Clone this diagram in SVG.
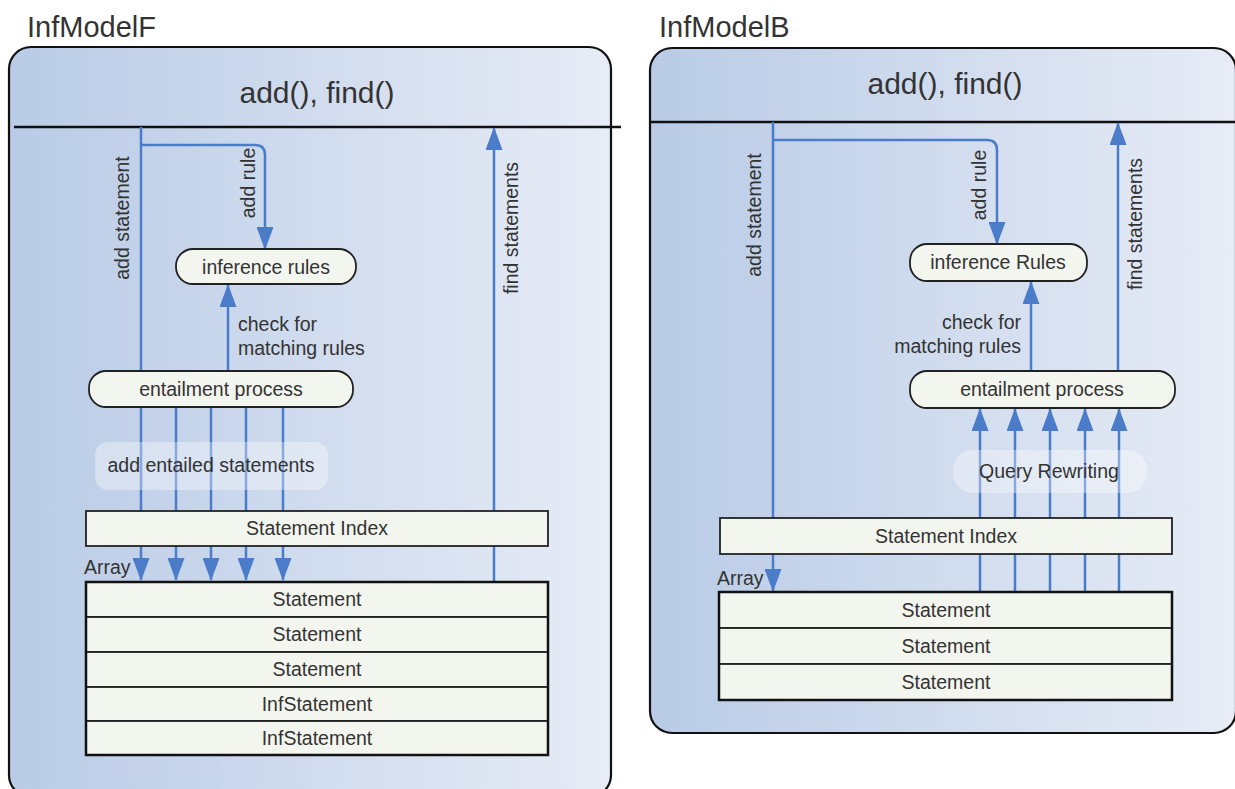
<svg xmlns="http://www.w3.org/2000/svg" width="1235" height="789" viewBox="0 0 1235 789">
<defs>
<linearGradient id="bg" x1="0" y1="0" x2="1" y2="0">
<stop offset="0" stop-color="#b9cbe6"/>
<stop offset="1" stop-color="#e7ecf6"/>
</linearGradient>
<marker id="ah" markerUnits="userSpaceOnUse" markerWidth="23" markerHeight="17" viewBox="0 0 23 17" refX="22" refY="8.5" orient="auto">
<path d="M0,0 L23,8.5 L0,17 z" fill="#4a7cc9"/>
</marker>
<style>
text{font-family:"Liberation Sans",Arial,sans-serif;fill:#333}
.title{font-size:29px}
.hdr{font-size:30px;text-anchor:middle}
.frame{fill:url(#bg);stroke:#111;stroke-width:2.2}
.sep{stroke:#111;stroke-width:2.5}
.node{fill:#f3f5ef;stroke:#222;stroke-width:1.8}
.nt{font-size:19.5px;text-anchor:middle;dominant-baseline:central}
.lbl{font-size:19.5px}
.conn{fill:none;stroke:#4a7cc9;stroke-width:2.5}
.arr{marker-end:url(#ah)}
.lblbg{fill:#ffffff;fill-opacity:0.35}
.vt{font-size:19.5px;text-anchor:middle}
</style>
</defs>

<!-- Left frame -->
<g id="frameF">
<text class="title" x="27" y="37">InfModelF</text>
<rect class="frame" x="9" y="47" width="602" height="750" rx="22"/>
<text class="hdr" x="317" y="103">add(), find()</text>
<line class="sep" x1="14" y1="127" x2="621" y2="127"/>
</g>

<!-- Right frame -->
<g id="frameB">
<text class="title" x="659" y="37">InfModelB</text>
<rect class="frame" x="650" y="48" width="586" height="685" rx="22"/>
<text class="hdr" x="945" y="94">add(), find()</text>
<line class="sep" x1="650" y1="122" x2="1236" y2="122"/>
</g>

<g id="connectors">
<!-- left -->
<path class="conn arr" d="M141,127 V580"/>
<path class="conn arr" d="M141,145 H255 Q265,145 265,155 V249"/>
<path class="conn arr" d="M228,371 V285"/>
<path class="conn arr" d="M176,407 V580"/>
<path class="conn arr" d="M211,407 V580"/>
<path class="conn arr" d="M246,407 V580"/>
<path class="conn arr" d="M283,407 V580"/>
<path class="conn arr" d="M494,582 V128"/>
<!-- right -->
<path class="conn arr" d="M773,122 V591"/>
<path class="conn arr" d="M773,140 H987 Q997,140 997,150 V244"/>
<path class="conn arr" d="M1031,371 V282"/>
<path class="conn arr" d="M1118,371 V123"/>
<path class="conn arr" d="M980,592 V409"/>
<path class="conn arr" d="M1015,592 V409"/>
<path class="conn arr" d="M1050,592 V409"/>
<path class="conn arr" d="M1085,592 V409"/>
<path class="conn arr" d="M1119,592 V409"/>
</g>

<!-- connector labels -->
<g id="labels">
<text class="vt" transform="translate(129,218) rotate(-90)">add statement</text>
<text class="vt" transform="translate(255,183) rotate(-90)">add rule</text>
<text class="vt" transform="translate(518,228) rotate(-90)">find statements</text>
<text class="lbl" x="238" y="331">check for</text>
<text class="lbl" x="238" y="355">matching rules</text>
<rect class="lblbg" x="95" y="442" width="233" height="48" rx="13"/>
<text class="nt" x="211" y="465">add entailed statements</text>
<text class="lbl" x="84" y="574">Array</text>

<text class="vt" transform="translate(761,215) rotate(-90)">add statement</text>
<text class="vt" transform="translate(986,185) rotate(-90)">add rule</text>
<text class="vt" transform="translate(1142,224) rotate(-90)">find statements</text>
<text class="lbl" x="1021" y="329" text-anchor="end">check for</text>
<text class="lbl" x="1021" y="353" text-anchor="end">matching rules</text>
<rect class="lblbg" x="953" y="450" width="194" height="43" rx="20"/>
<text class="nt" x="1049" y="471">Query Rewriting</text>
<text class="lbl" x="717" y="585">Array</text>
</g>

<!-- Left nodes -->
<g id="inferenceRulesF">
<rect class="node" x="176" y="249" width="180" height="35" rx="17"/>
<text class="nt" x="266" y="267">inference rules</text>
</g>
<g id="entailmentF">
<rect class="node" x="89" y="371" width="264" height="36" rx="17"/>
<text class="nt" x="221" y="389">entailment process</text>
</g>
<g id="indexF">
<rect class="node" x="86" y="511" width="462" height="35"/>
<text class="nt" x="317" y="528">Statement Index</text>
</g>
<g id="arrayF">
<rect class="node" x="86" y="582" width="462" height="35"/>
<text class="nt" x="317" y="599">Statement</text>
<rect class="node" x="86" y="617" width="462" height="35"/>
<text class="nt" x="317" y="634">Statement</text>
<rect class="node" x="86" y="652" width="462" height="35"/>
<text class="nt" x="317" y="669">Statement</text>
<rect class="node" x="86" y="687" width="462" height="34"/>
<text class="nt" x="317" y="704">InfStatement</text>
<rect class="node" x="86" y="721" width="462" height="34"/>
<text class="nt" x="317" y="738">InfStatement</text>
<rect x="86" y="582" width="462" height="173" fill="none" stroke="#111" stroke-width="2.5"/>
</g>

<!-- Right nodes -->
<g id="inferenceRulesB">
<rect class="node" x="910" y="244" width="177" height="37" rx="17"/>
<text class="nt" x="998" y="262">inference Rules</text>
</g>
<g id="entailmentB">
<rect class="node" x="910" y="371" width="265" height="37" rx="17"/>
<text class="nt" x="1042" y="389">entailment process</text>
</g>
<g id="indexB">
<rect class="node" x="720" y="518" width="452" height="36"/>
<text class="nt" x="946" y="536">Statement Index</text>
</g>
<g id="arrayB">
<rect class="node" x="719" y="592" width="453" height="36"/>
<text class="nt" x="946" y="610">Statement</text>
<rect class="node" x="719" y="628" width="453" height="36"/>
<text class="nt" x="946" y="646">Statement</text>
<rect class="node" x="719" y="664" width="453" height="36"/>
<text class="nt" x="946" y="682">Statement</text>
<rect x="719" y="592" width="453" height="108" fill="none" stroke="#111" stroke-width="2.5"/>
</g>
</svg>
